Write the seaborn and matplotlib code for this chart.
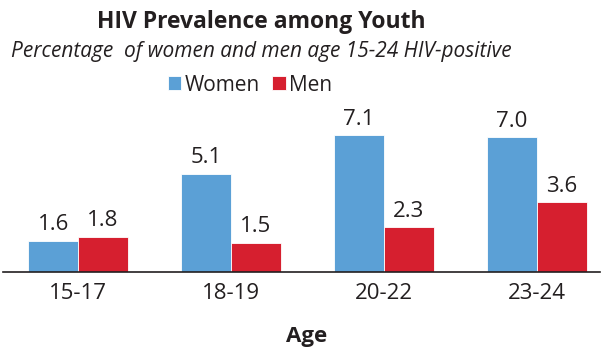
import matplotlib
matplotlib.use("Agg")
import matplotlib.pyplot as plt
import seaborn as sns
import pandas as pd

# Prevalence data (%)
age_groups = ["15-17", "18-19", "20-22", "23-24"]
women = [1.6, 5.1, 7.1, 7.0]
men = [1.8, 1.5, 2.3, 3.6]
sexes = ["Women", "Men"]
colors = {"Women": "#5BA0D6", "Men": "#D61F2F"}

df = pd.DataFrame({
    "Age": age_groups * 2,
    "Sex": [sexes[0]] * len(age_groups) + [sexes[1]] * len(age_groups),
    "Value": women + men,
})

sns.set_theme(style="white")
plt.rcParams["font.family"] = ["Open Sans", "DejaVu Sans"]
TXT = "#231F20"

W, H = 602, 349
fig = plt.figure(figsize=(W / 100, H / 100), dpi=100)

base_px = 271.5
px_per_unit = 19.2
ymax = 7.5
ax = fig.add_axes([3 / W, (H - base_px) / H, 597 / W, ymax * px_per_unit / H])

sns.barplot(data=df, x="Age", y="Value", hue="Sex", hue_order=sexes,
            palette=colors, width=0.65, edgecolor="white", linewidth=0.6,
            saturation=1, ax=ax)

spacing = 153.0
ax.set_xlim(-75 / spacing, 3 + 63 / spacing)
ax.set_ylim(0, ymax)

for cont in ax.containers:
    ax.bar_label(cont, fmt="%.1f", padding=4, fontsize=16, color=TXT)

for s in ["top", "right", "left"]:
    ax.spines[s].set_visible(False)
ax.spines["bottom"].set_color(TXT)
ax.spines["bottom"].set_linewidth(1.2)
ax.set_yticks([])
ax.set_ylabel("")
ax.set_xlabel("")
ax.tick_params(axis="x", length=0, pad=8, labelsize=16, labelcolor=TXT)

sns.move_legend(ax, "upper center", bbox_to_anchor=(250 / W, (H - 56) / H),
                bbox_transform=fig.transFigure, ncol=2, frameon=False,
                title=None, fontsize=15, handlelength=0.65, handleheight=0.65,
                handletextpad=0.15, columnspacing=0.6, labelcolor=TXT)

fig.text(261 / W, 1 - 28 / H, "HIV Prevalence among Youth", ha="center",
         va="baseline", fontsize=16.5, fontweight="bold", color=TXT)
fig.text(261 / W, 1 - 57 / H,
         "Percentage  of women and men age 15-24 HIV-positive",
         ha="center", va="baseline", fontsize=15, fontstyle="italic",
         color=TXT)
fig.text(307 / W, 1 - 342 / H, "Age", ha="center", va="baseline",
         fontsize=16, fontweight="bold", color=TXT)

fig.savefig("out.png", dpi=100)
